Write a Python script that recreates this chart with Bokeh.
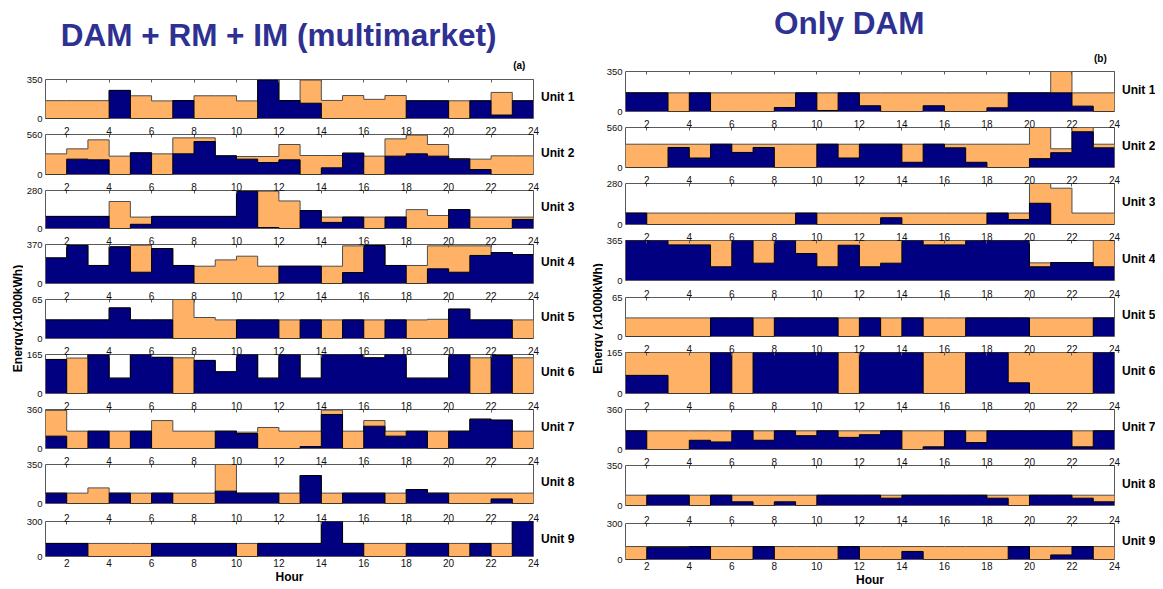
import math
from bokeh.plotting import figure
from bokeh.models import Range1d, LinearAxis, FixedTicker, Label
from bokeh.layouts import row, column
from bokeh.embed import file_html
from bokeh.resources import INLINE

# ---------------- data ----------------
hours = [1, 2, 3, 4, 5, 6, 7, 8, 9, 10, 11, 12, 13, 14, 15, 16, 17, 18, 19, 20, 21, 22, 23, 24]
x_ticks = [2, 4, 6, 8, 10, 12, 14, 16, 18, 20, 22, 24]
unit_names = ["Unit 1", "Unit 2", "Unit 3", "Unit 4", "Unit 5", "Unit 6", "Unit 7", "Unit 8", "Unit 9"]
ymax_a = [350, 560, 280, 370, 65, 165, 360, 350, 300]
ymax_b = [350, 560, 280, 365, 65, 165, 360, 350, 300]

# (a) DAM + RM + IM  -- navy level and orange top level per hour
a_u1_navy = [0, 0, 0, 252, 0, 0, 161, 0, 0, 0, 345, 161, 137, 0, 0, 0, 0, 159, 159, 0, 159, 31, 159]
a_u1_top = [160, 160, 160, 252, 204, 158, 161, 204, 204, 158, 345, 161, 345, 162, 206, 172, 206, 159, 159, 159, 159, 234, 159]
a_u2_navy = [0, 215, 205, 0, 303, 0, 289, 462, 261, 215, 168, 205, 0, 93, 299, 0, 257, 289, 257, 215, 70, 0, 0]
a_u2_top = [289, 359, 485, 257, 303, 289, 513, 513, 261, 252, 252, 420, 266, 266, 299, 257, 499, 551, 420, 224, 215, 261, 261]
a_u3_navy = [89, 89, 89, 0, 31, 89, 89, 89, 89, 275, 7, 0, 132, 45, 84, 0, 84, 0, 0, 139, 0, 0, 67]
a_u3_top = [89, 89, 89, 199, 84, 89, 89, 89, 89, 275, 275, 203, 132, 84, 84, 84, 84, 139, 96, 139, 84, 84, 84]
a_u4_navy = [243, 363, 171, 348, 107, 332, 171, 0, 0, 0, 0, 164, 164, 0, 104, 360, 171, 0, 139, 107, 266, 294, 275]
a_u4_top = [243, 363, 171, 348, 363, 332, 171, 164, 224, 259, 164, 164, 164, 164, 357, 360, 171, 171, 357, 357, 357, 294, 275]
a_u5_navy = [31, 31, 31, 51, 31, 31, 0, 0, 0, 31, 31, 0, 31, 0, 31, 0, 31, 0, 0, 49, 31, 31, 0]
a_u5_top = [31, 31, 31, 51, 31, 31, 65, 35, 31, 31, 31, 31, 31, 31, 31, 31, 31, 31, 32, 49, 31, 31, 31]
a_u6_navy = [144, 0, 165, 65, 165, 153, 0, 140, 92, 165, 65, 165, 65, 165, 165, 151, 165, 65, 65, 165, 0, 161, 0]
a_u6_top = [144, 150, 165, 65, 165, 153, 151, 140, 92, 165, 65, 165, 65, 165, 165, 151, 165, 65, 65, 165, 151, 161, 151]
a_u7_navy = [114, 0, 160, 0, 160, 0, 0, 0, 160, 138, 0, 0, 18, 314, 0, 206, 114, 160, 0, 160, 271, 262, 0]
a_u7_top = [352, 160, 160, 160, 160, 258, 160, 160, 160, 151, 194, 160, 160, 354, 160, 258, 160, 160, 160, 160, 271, 262, 160]
a_u8_navy = [93, 0, 0, 93, 0, 93, 0, 0, 111, 93, 93, 0, 251, 0, 93, 93, 0, 125, 93, 0, 0, 41, 0]
a_u8_top = [93, 93, 140, 93, 93, 93, 93, 93, 350, 93, 93, 93, 251, 93, 93, 93, 93, 125, 93, 93, 93, 93, 93]
a_u9_navy = [112, 112, 0, 0, 0, 112, 112, 112, 112, 0, 112, 112, 112, 300, 112, 0, 0, 112, 112, 0, 112, 0, 300]
a_u9_top = [112, 112, 112, 112, 112, 112, 112, 112, 112, 112, 112, 112, 112, 300, 112, 112, 112, 112, 112, 112, 112, 112, 300]

# (b) Only DAM
b_u1_navy = [163, 163, 0, 163, 0, 0, 0, 35, 163, 9, 163, 50, 0, 0, 50, 0, 0, 32, 163, 163, 163, 47, 0]
b_u1_top = [163, 163, 163, 163, 163, 163, 163, 163, 163, 163, 163, 163, 163, 163, 163, 163, 163, 163, 163, 163, 350, 163, 163]
b_u2_navy = [0, 0, 280, 133, 326, 211, 280, 0, 0, 326, 133, 326, 326, 73, 326, 275, 73, 0, 0, 124, 207, 500, 275]
b_u2_top = [326, 326, 326, 326, 326, 326, 326, 326, 326, 326, 326, 326, 326, 326, 326, 326, 326, 326, 326, 560, 262, 560, 326]
b_u3_navy = [78, 0, 0, 0, 0, 0, 0, 0, 78, 0, 0, 0, 46, 0, 0, 0, 0, 78, 34, 145, 0, 0, 0]
b_u3_top = [78, 78, 78, 78, 78, 78, 78, 78, 78, 78, 78, 78, 78, 78, 78, 78, 78, 78, 78, 280, 248, 78, 78]
b_u4_navy = [365, 365, 325, 325, 125, 365, 158, 365, 246, 125, 322, 125, 158, 365, 325, 325, 365, 365, 365, 125, 164, 164, 125]
b_u4_top = [365, 365, 365, 365, 365, 365, 365, 365, 365, 365, 365, 365, 365, 365, 365, 365, 365, 365, 365, 161, 164, 164, 365]
b_u5_navy = [0, 0, 0, 0, 31, 31, 0, 31, 31, 31, 0, 31, 0, 31, 0, 0, 31, 31, 31, 0, 0, 0, 31]
b_u5_top = [31, 31, 31, 31, 31, 31, 31, 31, 31, 31, 31, 31, 31, 31, 31, 31, 31, 31, 31, 31, 31, 31, 31]
b_u6_navy = [73, 73, 0, 0, 165, 0, 165, 165, 165, 165, 0, 165, 165, 165, 0, 0, 165, 165, 43, 0, 0, 0, 165]
b_u6_top = [165, 165, 165, 165, 165, 165, 165, 165, 165, 165, 165, 165, 165, 165, 165, 165, 165, 165, 165, 165, 165, 165, 165]
b_u7_navy = [168, 0, 0, 83, 68, 168, 83, 168, 124, 168, 109, 133, 168, 0, 24, 168, 62, 168, 168, 168, 168, 24, 168]
b_u7_top = [168, 168, 168, 168, 168, 168, 168, 168, 168, 168, 168, 168, 168, 168, 168, 168, 168, 168, 168, 168, 168, 168, 168]
b_u8_navy = [0, 90, 90, 0, 90, 32, 0, 32, 0, 90, 90, 90, 64, 90, 90, 90, 90, 64, 0, 90, 90, 64, 32]
b_u8_top = [90, 90, 90, 90, 90, 90, 90, 90, 90, 90, 90, 90, 90, 90, 90, 90, 90, 90, 90, 90, 90, 90, 90]
b_u9_navy = [0, 103, 103, 108, 0, 0, 108, 0, 0, 0, 108, 0, 0, 67, 0, 0, 0, 0, 108, 0, 38, 108, 0]
b_u9_top = [108, 108, 108, 108, 108, 108, 108, 108, 108, 108, 108, 108, 108, 108, 108, 108, 108, 108, 108, 108, 108, 108, 108]

a_navy = [a_u1_navy, a_u2_navy, a_u3_navy, a_u4_navy, a_u5_navy, a_u6_navy, a_u7_navy, a_u8_navy, a_u9_navy]
a_top = [a_u1_top, a_u2_top, a_u3_top, a_u4_top, a_u5_top, a_u6_top, a_u7_top, a_u8_top, a_u9_top]
b_navy = [b_u1_navy, b_u2_navy, b_u3_navy, b_u4_navy, b_u5_navy, b_u6_navy, b_u7_navy, b_u8_navy, b_u9_navy]
b_top = [b_u1_top, b_u2_top, b_u3_top, b_u4_top, b_u5_top, b_u6_top, b_u7_top, b_u8_top, b_u9_top]

# ---------------- style ----------------
NAVY = "#000080"
ORANGE = "#FFB266"
FRAME = "#5a5a5a"
TITLE_COLOR = "#2E3192"
FONT = "Liberation Sans"
X_TICK_FS = "10px"
Y_TICK_FS = "9.5px"

# layout geometry per unit plot: (top border, frame height, bottom border)
geom_a = [(7, 39, 5), (11, 40, 5), (10, 39, 5), (11, 39, 5), (11, 39, 5),
          (10, 40, 5), (11, 39, 5), (10, 40, 5), (13, 38, 27)]
geom_b = [(7, 40, 5), (11, 40, 5), (11, 41, 5), (11, 40, 5), (12, 39, 5),
          (11, 41, 5), (10, 41, 5), (11, 40, 5), (13, 39, 27)]
TITLE_H_A = 72
TITLE_H_B = 64


def style_axis(ax, tick_in, labels_on, size):
    ax.major_tick_in = tick_in
    ax.major_tick_out = 0
    ax.minor_tick_in = 0
    ax.minor_tick_out = 0
    ax.axis_line_color = None
    ax.major_tick_line_color = FRAME
    ax.major_label_text_font = FONT
    ax.major_label_text_font_size = size if labels_on else "1px"
    ax.major_label_text_color = "#111111" if labels_on else None


def make_unit(k, ymax, navy, top, geom, left, fw, right):
    bt, fh, bb = geom
    p = figure(width=left + fw + right, height=bt + fh + bb,
               x_range=Range1d(1, 24), y_range=Range1d(0, ymax),
               output_backend="svg", toolbar_location=None,
               x_axis_location=None, y_axis_location="left",
               min_border_left=left, min_border_right=right,
               min_border_top=bt, min_border_bottom=bb)
    p.grid.visible = False
    p.outline_line_color = FRAME
    p.outline_line_width = 1
    p.background_fill_color = "white"
    p.border_fill_color = "white"

    zeros = [0] * len(hours)
    top_ext = top + [top[-1]]
    navy_ext = navy + [navy[-1]]
    p.varea_step(x=hours, y1=zeros, y2=top_ext, step_mode="after", fill_color=ORANGE)
    p.step(x=hours, y=top_ext, mode="after", line_color="#4d4d4d", line_width=1)
    p.varea_step(x=hours, y1=zeros, y2=navy_ext, step_mode="after", fill_color=NAVY)
    p.step(x=hours, y=navy_ext, mode="after", line_color="black", line_width=1)

    ya = p.yaxis[0]
    ya.ticker = FixedTicker(ticks=[0, ymax])
    style_axis(ya, 0, True, Y_TICK_FS)
    ya.major_label_standoff = 3

    ta = LinearAxis(ticker=FixedTicker(ticks=x_ticks))
    style_axis(ta, 3, k > 0, X_TICK_FS)
    ta.major_label_standoff = 0
    p.add_layout(ta, "above")

    if k == 8:
        ba = LinearAxis(ticker=FixedTicker(ticks=x_ticks), axis_label="Hour")
        style_axis(ba, 0, True, X_TICK_FS)
        ba.major_label_standoff = 2
        ba.axis_label_standoff = 0
        ba.axis_label_text_font = FONT
        ba.axis_label_text_font_size = "12px"
        ba.axis_label_text_font_style = "bold"
        ba.axis_label_text_color = "black"
        p.add_layout(ba, "below")
    return p


def text_fig(width, height):
    f = figure(width=width, height=height, x_range=Range1d(0, width), y_range=Range1d(0, height),
               output_backend="svg", toolbar_location=None,
               x_axis_location=None, y_axis_location=None,
               min_border_left=0, min_border_right=0, min_border_top=0, min_border_bottom=0)
    f.grid.visible = False
    f.outline_line_color = None
    f.background_fill_color = "white"
    f.border_fill_color = "white"
    return f


def add_text(f, x, y, text, size, color="black", align="center", angle=0.0, bold=True):
    f.add_layout(Label(x=x, y=y, text=text, angle=angle,
                       text_font=FONT, text_font_size=size,
                       text_font_style="bold" if bold else "normal",
                       text_align=align, text_baseline="middle", text_color=color))


def build_panel(navys, tops, ymaxs, geoms, left, fw, right, title_h,
                title, title_x, title_y, tag, tag_x, tag_y,
                ylab_w, ylab_x, ylab_text, ulab_w):
    figs = [make_unit(k, ymaxs[k], navys[k], tops[k], geoms[k], left, fw, right) for k in range(9)]
    unit_w = left + fw + right
    col_h = title_h + sum(g[0] + g[1] + g[2] for g in geoms)

    tf = text_fig(unit_w, title_h)
    add_text(tf, title_x, title_h - title_y, title, "31.5px", color=TITLE_COLOR)
    add_text(tf, tag_x, title_h - tag_y, tag, "10px")

    # y-axis title (spans all unit plots)
    yf = text_fig(ylab_w, col_h)
    add_text(yf, ylab_x, col_h - 318, ylab_text, "12px", angle=math.pi / 2)

    # unit names at the right of each plot
    uf = text_fig(ulab_w, col_h)
    y0 = title_h
    for k, (bt, fh, bb) in enumerate(geoms):
        center = y0 + bt + fh / 2.0
        add_text(uf, 0.5, col_h - center + 2, unit_names[k], "12px", align="left")
        y0 += bt + fh + bb

    return row(yf, column(tf, *figs, spacing=0), uf, spacing=0)


panel_a = build_panel(a_navy, a_top, ymax_a, geom_a, 19, 491, 7, TITLE_H_A,
                      "DAM + RM + IM (multimarket)", 247, 34, "(a)", 502, 65,
                      23, 17, "Energy(x1000kWh)", 40)
panel_b = build_panel(b_navy, b_top, ymax_b, geom_b, 19, 492, 7, TITLE_H_B,
                      "Only DAM", 237, 22, "(b)", 503, 58,
                      23, 17, "Energy (x1000kWh)", 34)

layout = row(panel_a, panel_b, spacing=0)

open("out.html", "w").write(file_html(layout, INLINE))
